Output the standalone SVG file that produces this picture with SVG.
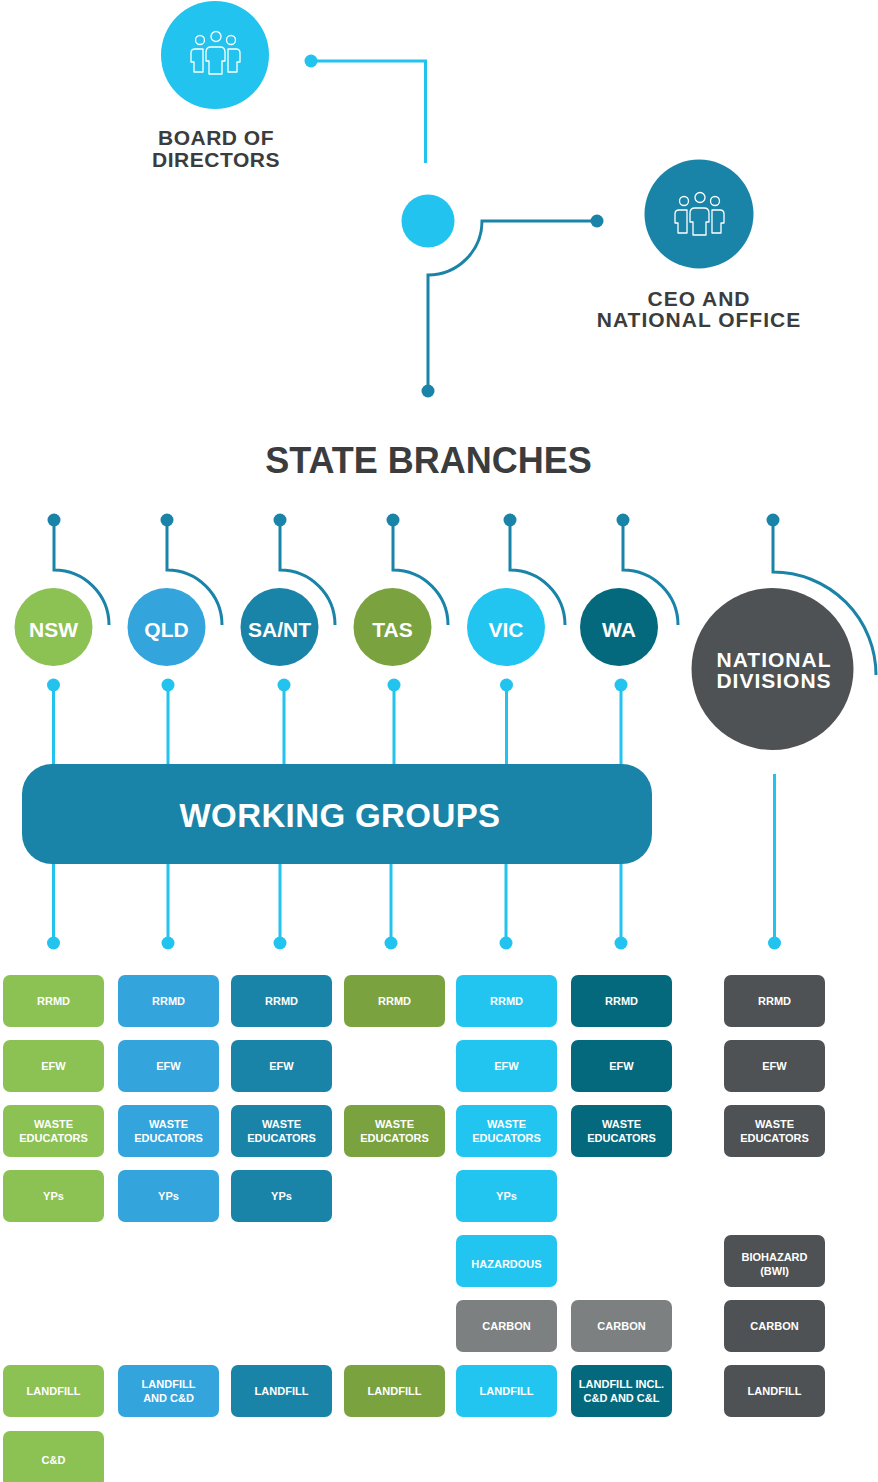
<svg xmlns="http://www.w3.org/2000/svg" width="878" height="1482" viewBox="0 0 878 1482">
<style>
.title{font-family:"Liberation Sans",Arial,sans-serif;font-weight:700;fill:#3a3c3e;text-anchor:middle}
.lbl{font-family:"Liberation Sans",Arial,sans-serif;font-weight:700;fill:#ffffff;text-anchor:middle}
.box{font-size:11px}
.teal{stroke:#1a84a8;stroke-width:3;fill:none}
.sky{stroke:#22c3ef;stroke-width:3;fill:none}
.dt{fill:#1a84a8}
.ds{fill:#22c3ef}
.icon{fill:none;stroke:#ffffff;stroke-width:1.3;stroke-linejoin:round}
.nsw{fill:#8cc153}.qld{fill:#34a4dc}.sant{fill:#1a84a8}.tas{fill:#7aa23f}.vic{fill:#22c5f0}.wa{fill:#05697e}.nat{fill:#4e5254}.grey{fill:#7c8081}
</style>
<defs>
<g id="people" class="icon">
<circle cx="-15" cy="-15" r="4.5"/>
<circle cx="1" cy="-18.5" r="5"/>
<circle cx="16" cy="-15" r="4.5"/>
<path d="M-9,-3 Q-9,-8 -4,-8 H5 Q10,-8 10,-3 V6 H7 V19 H-6 V6 H-9 Z"/>
<path d="M-12,-6 H-20 Q-24,-6 -24,-2 V7 H-21 V17 H-12 Z"/>
<path d="M13,-6 H21 Q25,-6 25,-2 V7 H22 V17 H13 Z"/>
</g>
</defs>

<g id="connectors">
<path class="sky" d="M311,61 H425.5 V163"/>
<circle class="ds" cx="311" cy="61" r="6.5"/>
<path class="teal" d="M428,391 V275 A54,54 0 0 0 482,221 H597"/>
<circle class="dt" cx="597" cy="221" r="6.5"/>
<circle class="dt" cx="428" cy="391" r="6.5"/>

<path class="teal" d="M54,520 V570 A55,55 0 0 1 109,625"/>
<path class="teal" d="M167,520 V570 A55,55 0 0 1 222,625"/>
<path class="teal" d="M280,520 V570 A55,55 0 0 1 335,625"/>
<path class="teal" d="M393,520 V570 A55,55 0 0 1 448,625"/>
<path class="teal" d="M510,520 V570 A55,55 0 0 1 565,625"/>
<path class="teal" d="M623,520 V570 A55,55 0 0 1 678,625"/>
<path class="teal" d="M773,520 V572 A103,103 0 0 1 876,675"/>
<circle class="dt" cx="54" cy="520" r="6.5"/>
<circle class="dt" cx="167" cy="520" r="6.5"/>
<circle class="dt" cx="280" cy="520" r="6.5"/>
<circle class="dt" cx="393" cy="520" r="6.5"/>
<circle class="dt" cx="510" cy="520" r="6.5"/>
<circle class="dt" cx="623" cy="520" r="6.5"/>
<circle class="dt" cx="773" cy="520" r="6.5"/>

<path class="sky" d="M53.5,685 V765 M168,685 V765 M284,685 V765 M394,685 V765 M506.5,685 V765 M621,685 V765"/>
<circle class="ds" cx="53.5" cy="685" r="6.5"/>
<circle class="ds" cx="168" cy="685" r="6.5"/>
<circle class="ds" cx="284" cy="685" r="6.5"/>
<circle class="ds" cx="394" cy="685" r="6.5"/>
<circle class="ds" cx="506.5" cy="685" r="6.5"/>
<circle class="ds" cx="621" cy="685" r="6.5"/>

<path class="sky" d="M53.5,863 V943 M168,863 V943 M280,863 V943 M391,863 V943 M506,863 V943 M621,863 V943 M774.5,774 V943"/>
<circle class="ds" cx="53.5" cy="943" r="6.5"/>
<circle class="ds" cx="168" cy="943" r="6.5"/>
<circle class="ds" cx="280" cy="943" r="6.5"/>
<circle class="ds" cx="391" cy="943" r="6.5"/>
<circle class="ds" cx="506" cy="943" r="6.5"/>
<circle class="ds" cx="621" cy="943" r="6.5"/>
<circle class="ds" cx="774.5" cy="943" r="6.5"/>
</g>

<g id="board">
<circle cx="215" cy="55" r="54" fill="#22c3ef"/>
<use href="#people" x="215" y="55"/>
<text class="title" x="216" y="145" font-size="21" letter-spacing="0.5">BOARD OF</text>
<text class="title" x="216" y="167" font-size="21" letter-spacing="0.5">DIRECTORS</text>
</g>

<g id="hub">
<circle cx="428" cy="221" r="26.5" fill="#22c3ef"/>
</g>

<g id="ceo">
<circle cx="699" cy="214" r="54.5" fill="#1a84a8"/>
<use href="#people" x="699" y="216"/>
<text class="title" x="699" y="306" font-size="21" letter-spacing="1">CEO AND</text>
<text class="title" x="699" y="327" font-size="21" letter-spacing="1">NATIONAL OFFICE</text>
</g>

<g id="state-branches">
<text class="title" x="428.5" y="473" font-size="36">STATE BRANCHES</text>
</g>

<g id="nsw"><circle class="nsw" cx="53.5" cy="627" r="39"/><text class="lbl" x="53.5" y="637" font-size="21">NSW</text></g>
<g id="qld"><circle class="qld" cx="166.5" cy="627" r="39"/><text class="lbl" x="166.5" y="637" font-size="21">QLD</text></g>
<g id="sant"><circle class="sant" cx="279.5" cy="627" r="39"/><text class="lbl" x="279.5" y="637" font-size="21">SA/NT</text></g>
<g id="tas"><circle class="tas" cx="392.5" cy="627" r="39"/><text class="lbl" x="392.5" y="637" font-size="21">TAS</text></g>
<g id="vic"><circle class="vic" cx="506" cy="627" r="39"/><text class="lbl" x="506" y="637" font-size="21">VIC</text></g>
<g id="wa"><circle class="wa" cx="619" cy="627" r="39"/><text class="lbl" x="619" y="637" font-size="21">WA</text></g>
<g id="national"><circle class="nat" cx="772.5" cy="669" r="81"/>
<text class="lbl" x="774" y="667" font-size="21" letter-spacing="1">NATIONAL</text>
<text class="lbl" x="774" y="688" font-size="21" letter-spacing="1">DIVISIONS</text></g>

<g id="working-groups">
<rect x="22" y="764" width="630" height="100" rx="30" fill="#1a84a8"/>
<text class="lbl" x="340" y="827" font-size="33" letter-spacing="0.4">WORKING GROUPS</text>
</g>

<g id="nsw-groups">
<rect class="nsw" x="3" y="975" width="101" height="52" rx="7"/><text class="lbl box" x="53.5" y="1005">RRMD</text>
<rect class="nsw" x="3" y="1040" width="101" height="52" rx="7"/><text class="lbl box" x="53.5" y="1070">EFW</text>
<rect class="nsw" x="3" y="1105" width="101" height="52" rx="7"/><text class="lbl box" x="53.5" y="1128">WASTE</text><text class="lbl box" x="53.5" y="1142">EDUCATORS</text>
<rect class="nsw" x="3" y="1170" width="101" height="52" rx="7"/><text class="lbl box" x="53.5" y="1200">YPs</text>
<rect class="nsw" x="3" y="1365" width="101" height="52" rx="7"/><text class="lbl box" x="53.5" y="1395">LANDFILL</text>
<rect class="nsw" x="3" y="1431" width="101" height="56" rx="7"/><text class="lbl box" x="53.5" y="1464">C&amp;D</text>
</g>

<g id="qld-groups">
<rect class="qld" x="118" y="975" width="101" height="52" rx="7"/><text class="lbl box" x="168.5" y="1005">RRMD</text>
<rect class="qld" x="118" y="1040" width="101" height="52" rx="7"/><text class="lbl box" x="168.5" y="1070">EFW</text>
<rect class="qld" x="118" y="1105" width="101" height="52" rx="7"/><text class="lbl box" x="168.5" y="1128">WASTE</text><text class="lbl box" x="168.5" y="1142">EDUCATORS</text>
<rect class="qld" x="118" y="1170" width="101" height="52" rx="7"/><text class="lbl box" x="168.5" y="1200">YPs</text>
<rect class="qld" x="118" y="1365" width="101" height="52" rx="7"/><text class="lbl box" x="168.5" y="1388">LANDFILL</text><text class="lbl box" x="168.5" y="1402">AND C&amp;D</text>
</g>

<g id="sant-groups">
<rect class="sant" x="231" y="975" width="101" height="52" rx="7"/><text class="lbl box" x="281.5" y="1005">RRMD</text>
<rect class="sant" x="231" y="1040" width="101" height="52" rx="7"/><text class="lbl box" x="281.5" y="1070">EFW</text>
<rect class="sant" x="231" y="1105" width="101" height="52" rx="7"/><text class="lbl box" x="281.5" y="1128">WASTE</text><text class="lbl box" x="281.5" y="1142">EDUCATORS</text>
<rect class="sant" x="231" y="1170" width="101" height="52" rx="7"/><text class="lbl box" x="281.5" y="1200">YPs</text>
<rect class="sant" x="231" y="1365" width="101" height="52" rx="7"/><text class="lbl box" x="281.5" y="1395">LANDFILL</text>
</g>

<g id="tas-groups">
<rect class="tas" x="344" y="975" width="101" height="52" rx="7"/><text class="lbl box" x="394.5" y="1005">RRMD</text>
<rect class="tas" x="344" y="1105" width="101" height="52" rx="7"/><text class="lbl box" x="394.5" y="1128">WASTE</text><text class="lbl box" x="394.5" y="1142">EDUCATORS</text>
<rect class="tas" x="344" y="1365" width="101" height="52" rx="7"/><text class="lbl box" x="394.5" y="1395">LANDFILL</text>
</g>

<g id="vic-groups">
<rect class="vic" x="456" y="975" width="101" height="52" rx="7"/><text class="lbl box" x="506.5" y="1005">RRMD</text>
<rect class="vic" x="456" y="1040" width="101" height="52" rx="7"/><text class="lbl box" x="506.5" y="1070">EFW</text>
<rect class="vic" x="456" y="1105" width="101" height="52" rx="7"/><text class="lbl box" x="506.5" y="1128">WASTE</text><text class="lbl box" x="506.5" y="1142">EDUCATORS</text>
<rect class="vic" x="456" y="1170" width="101" height="52" rx="7"/><text class="lbl box" x="506.5" y="1200">YPs</text>
<rect class="vic" x="456" y="1235" width="101" height="52" rx="7"/><text class="lbl box" x="506.5" y="1268">HAZARDOUS</text>
<rect class="grey" x="456" y="1300" width="101" height="52" rx="7"/><text class="lbl box" x="506.5" y="1330">CARBON</text>
<rect class="vic" x="456" y="1365" width="101" height="52" rx="7"/><text class="lbl box" x="506.5" y="1395">LANDFILL</text>
</g>

<g id="wa-groups">
<rect class="wa" x="571" y="975" width="101" height="52" rx="7"/><text class="lbl box" x="621.5" y="1005">RRMD</text>
<rect class="wa" x="571" y="1040" width="101" height="52" rx="7"/><text class="lbl box" x="621.5" y="1070">EFW</text>
<rect class="wa" x="571" y="1105" width="101" height="52" rx="7"/><text class="lbl box" x="621.5" y="1128">WASTE</text><text class="lbl box" x="621.5" y="1142">EDUCATORS</text>
<rect class="grey" x="571" y="1300" width="101" height="52" rx="7"/><text class="lbl box" x="621.5" y="1330">CARBON</text>
<rect class="wa" x="571" y="1365" width="101" height="52" rx="7"/><text class="lbl box" x="621.5" y="1388">LANDFILL INCL.</text><text class="lbl box" x="621.5" y="1402">C&amp;D AND C&amp;L</text>
</g>

<g id="national-groups">
<rect class="nat" x="724" y="975" width="101" height="52" rx="7"/><text class="lbl box" x="774.5" y="1005">RRMD</text>
<rect class="nat" x="724" y="1040" width="101" height="52" rx="7"/><text class="lbl box" x="774.5" y="1070">EFW</text>
<rect class="nat" x="724" y="1105" width="101" height="52" rx="7"/><text class="lbl box" x="774.5" y="1128">WASTE</text><text class="lbl box" x="774.5" y="1142">EDUCATORS</text>
<rect class="nat" x="724" y="1235" width="101" height="52" rx="7"/><text class="lbl box" x="774.5" y="1261">BIOHAZARD</text><text class="lbl box" x="774.5" y="1275">(BWI)</text>
<rect class="nat" x="724" y="1300" width="101" height="52" rx="7"/><text class="lbl box" x="774.5" y="1330">CARBON</text>
<rect class="nat" x="724" y="1365" width="101" height="52" rx="7"/><text class="lbl box" x="774.5" y="1395">LANDFILL</text>
</g>
</svg>
